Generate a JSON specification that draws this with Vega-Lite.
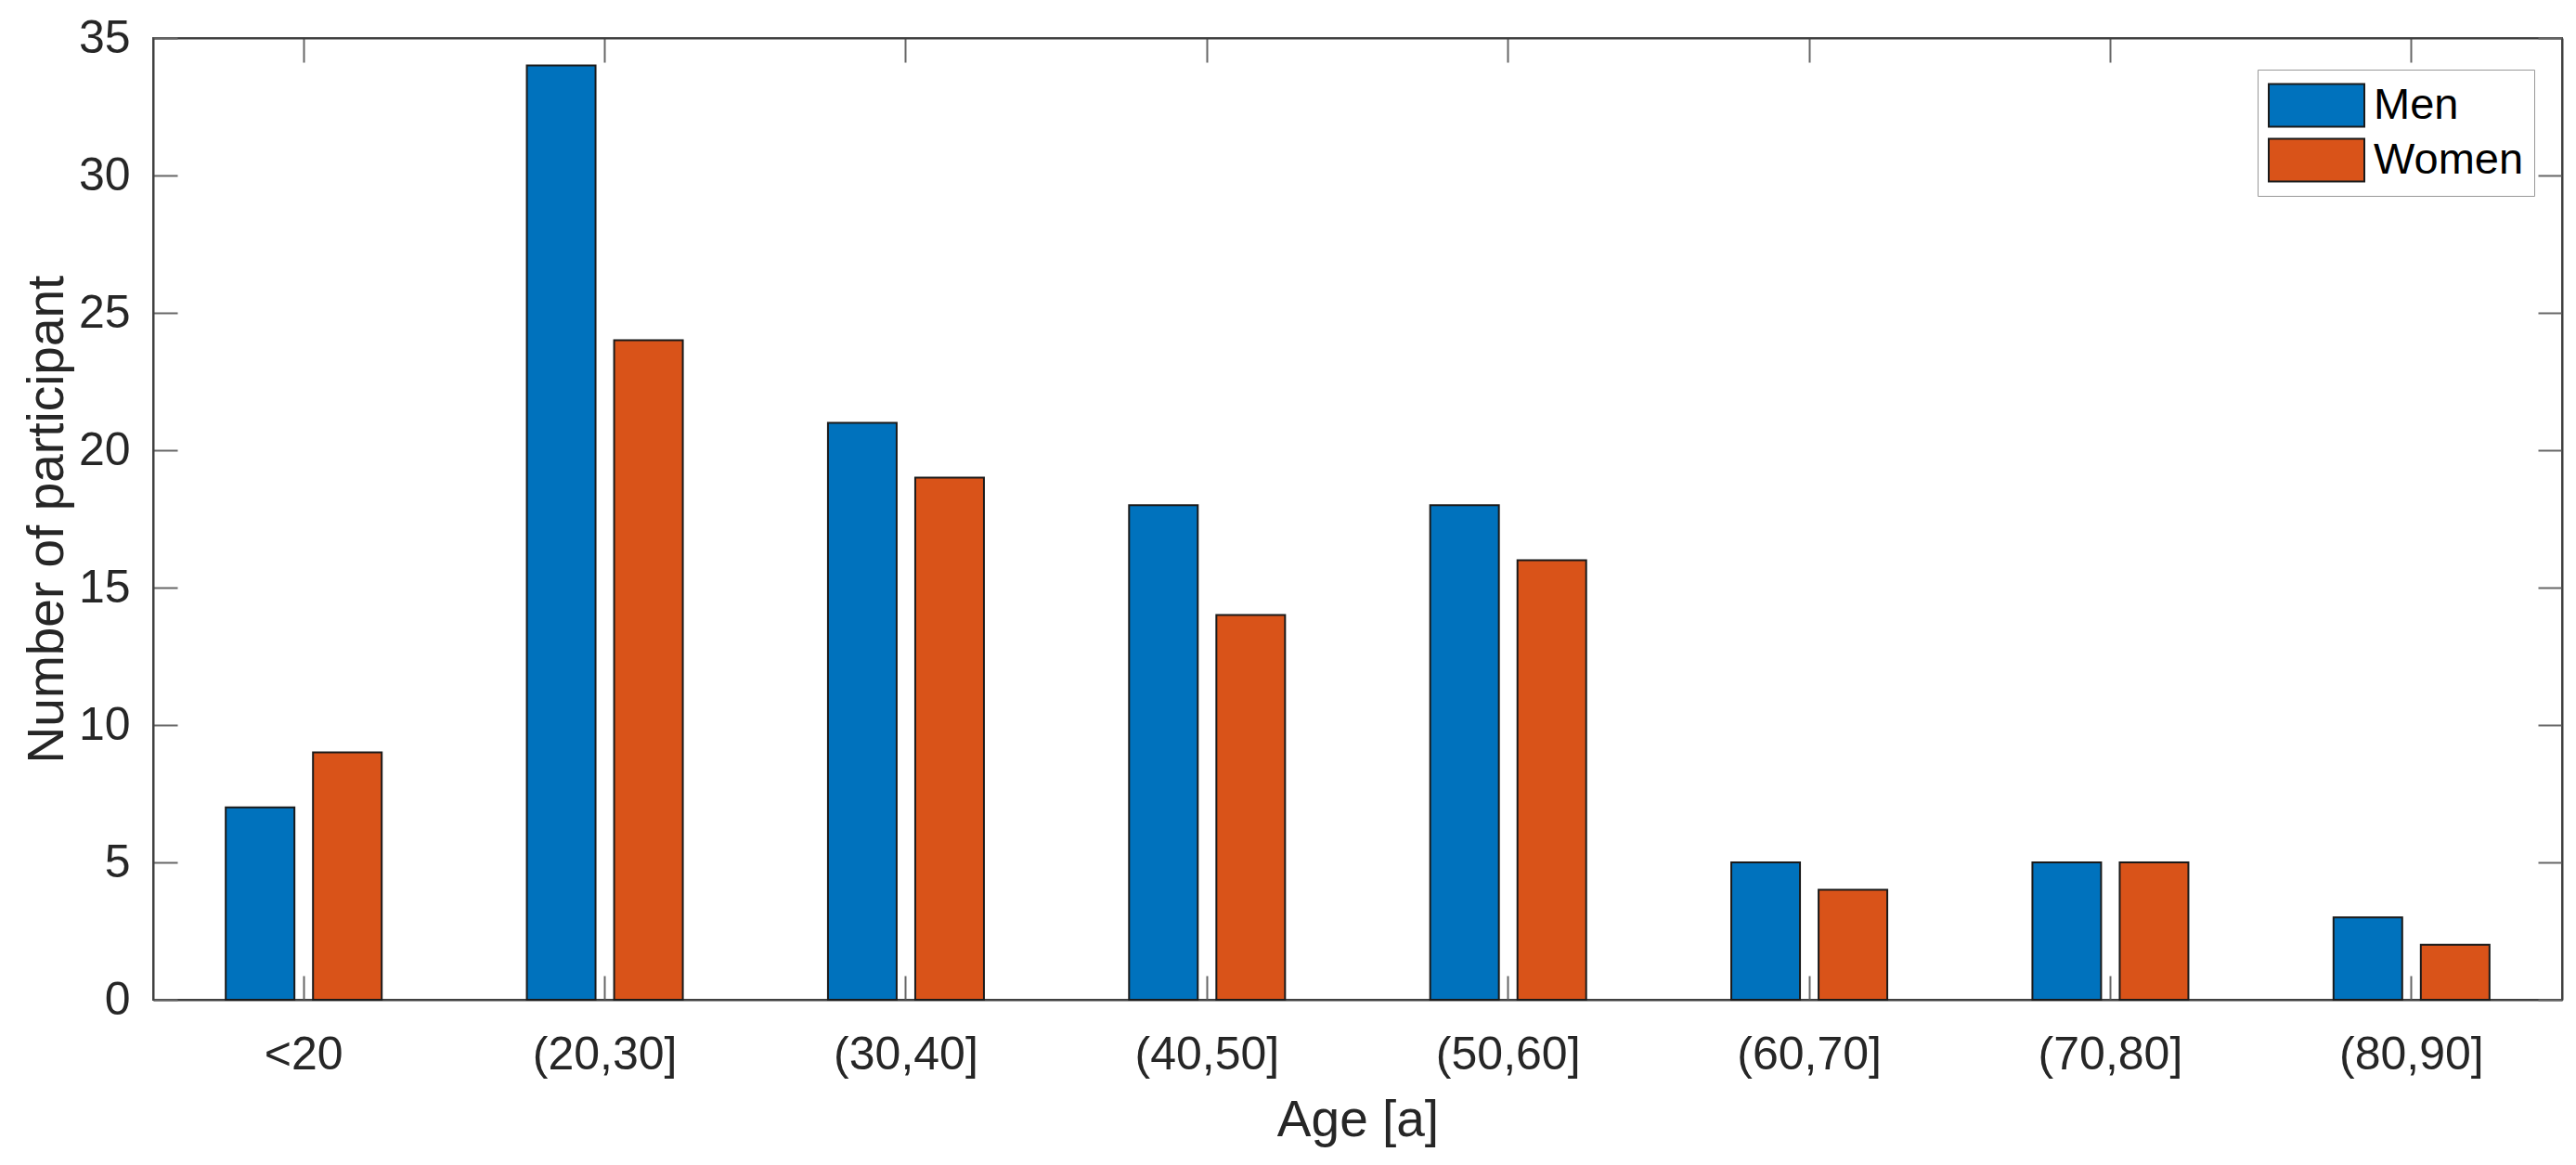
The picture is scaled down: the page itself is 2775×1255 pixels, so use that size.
{
  "$schema": "https://vega.github.io/schema/vega-lite/v6.json",
  "width": 2595,
  "height": 1036,
  "autosize": {"type": "none"},
  "padding": {"left": 165, "top": 41, "right": 15, "bottom": 178},
  "config": {
    "view": {"stroke": "#404040", "strokeWidth": 2},
    "font": "Liberation Sans"
  },
  "data": {
    "values": [
      {"Age": "<20", "Gender": "Men", "Count": 7},
      {"Age": "<20", "Gender": "Women", "Count": 9},
      {"Age": "(20,30]", "Gender": "Men", "Count": 34},
      {"Age": "(20,30]", "Gender": "Women", "Count": 24},
      {"Age": "(30,40]", "Gender": "Men", "Count": 21},
      {"Age": "(30,40]", "Gender": "Women", "Count": 19},
      {"Age": "(40,50]", "Gender": "Men", "Count": 18},
      {"Age": "(40,50]", "Gender": "Women", "Count": 14},
      {"Age": "(50,60]", "Gender": "Men", "Count": 18},
      {"Age": "(50,60]", "Gender": "Women", "Count": 16},
      {"Age": "(60,70]", "Gender": "Men", "Count": 5},
      {"Age": "(60,70]", "Gender": "Women", "Count": 4},
      {"Age": "(70,80]", "Gender": "Men", "Count": 5},
      {"Age": "(70,80]", "Gender": "Women", "Count": 5},
      {"Age": "(80,90]", "Gender": "Men", "Count": 3},
      {"Age": "(80,90]", "Gender": "Women", "Count": 2}
    ]
  },
  "layer": [
    {
      "mark": {"type": "bar", "stroke": "#1a1a1a", "strokeWidth": 2},
      "encoding": {
        "x": {
          "field": "Age", "type": "nominal",
          "sort": ["<20", "(20,30]", "(30,40]", "(40,50]", "(50,60]", "(60,70]", "(70,80]", "(80,90]"],
          "scale": {"paddingInner": 0.482, "paddingOuter": 0.241},
          "axis": {
            "orient": "bottom", "title": "Age [a]", "titleFontSize": 55, "titleFontWeight": "normal",
            "titleColor": "#262626", "labelFontSize": 50, "labelColor": "#262626", "labelPadding": 60,
            "labelAngle": 0, "tickSize": -26, "tickColor": "#666666", "tickWidth": 2,
            "domainColor": "#404040", "domainWidth": 2, "titlePadding": 19
          }
        },
        "xOffset": {
          "field": "Gender", "type": "nominal",
          "scale": {"paddingInner": 0.213, "paddingOuter": 0}
        },
        "y": {
          "field": "Count", "type": "quantitative",
          "scale": {"domain": [0, 35], "nice": false},
          "axis": {
            "orient": "left", "title": "Number of participant", "values": [0, 5, 10, 15, 20, 25, 30, 35],
            "grid": false, "titleFontSize": 55, "titleFontWeight": "normal", "titleColor": "#262626",
            "labelFontSize": 50, "labelColor": "#262626", "labelPadding": 51,
            "tickSize": -26, "tickColor": "#666666", "tickWidth": 2,
            "domainColor": "#404040", "domainWidth": 2, "titlePadding": 5
          }
        },
        "color": {
          "field": "Gender", "type": "nominal",
          "scale": {"domain": ["Men", "Women"], "range": ["#0072BD", "#D95319"]},
          "legend": {
            "title": null, "orient": "none", "legendX": 2267, "legendY": 34,
            "symbolType": "M-1,-0.447L1,-0.447L1,0.447L-1,0.447Z", "symbolSize": 10609,
            "symbolStrokeColor": "#1a1a1a", "symbolStrokeWidth": 2, "symbolOpacity": 1,
            "labelFontSize": 47, "labelColor": "#000000", "labelOffset": 9, "labelLimit": 0,
            "padding": 11, "strokeColor": "#999999", "fillColor": "#ffffff",
            "clipHeight": 55, "rowPadding": 4
          }
        }
      }
    },
    {
      "mark": {"type": "bar", "opacity": 0},
      "encoding": {
        "x": {
          "field": "Age", "type": "nominal",
          "sort": ["<20", "(20,30]", "(30,40]", "(40,50]", "(50,60]", "(60,70]", "(70,80]", "(80,90]"],
          "axis": {
            "orient": "top", "title": null, "labels": false, "tickSize": -26, "tickColor": "#666666",
            "tickWidth": 2, "domainColor": "#404040", "domainWidth": 2
          }
        },
        "y": {
          "field": "Count", "type": "quantitative",
          "axis": {
            "orient": "right", "title": null, "labels": false, "grid": false,
            "values": [0, 5, 10, 15, 20, 25, 30, 35],
            "tickSize": -26, "tickColor": "#666666", "tickWidth": 2,
            "domainColor": "#404040", "domainWidth": 2
          }
        }
      }
    }
  ],
  "resolve": {"axis": {"x": "independent", "y": "independent"}}
}
